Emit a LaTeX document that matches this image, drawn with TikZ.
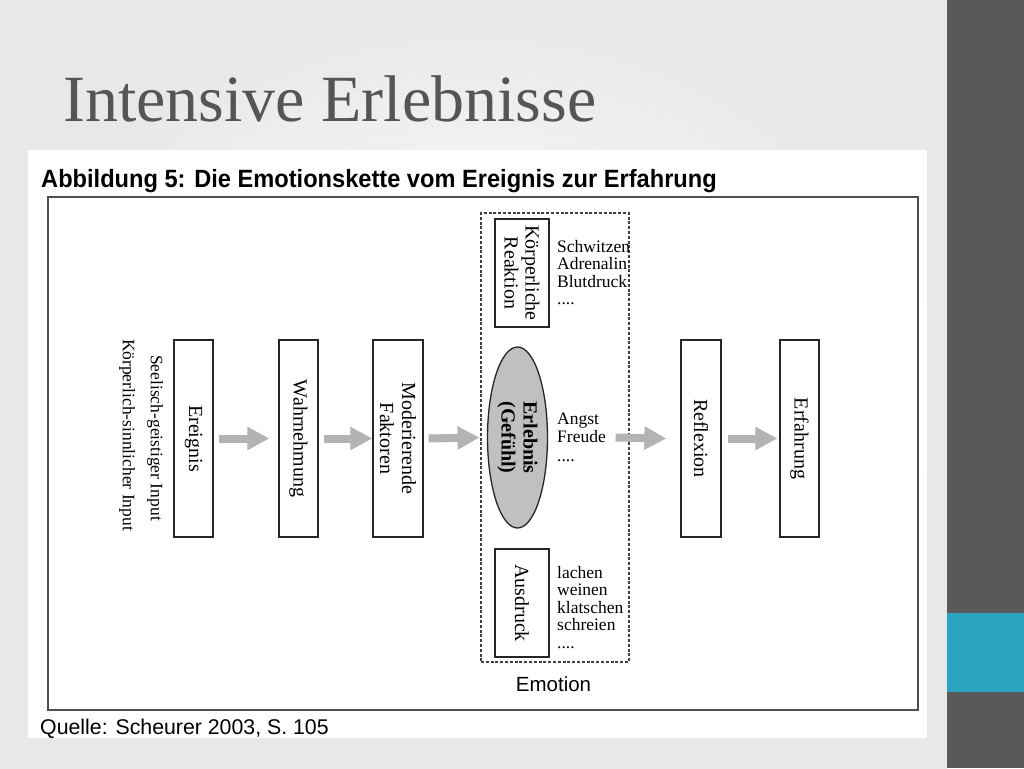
\documentclass[tikz,border=0pt]{standalone}
\usepackage{fontspec}
\setmainfont{Liberation Serif}
\setsansfont{Liberation Sans}
\usetikzlibrary{shapes.geometric,arrows.meta}
\definecolor{titlegray}{HTML}{555555}
\definecolor{barcol}{HTML}{595959}
\definecolor{accentteal}{HTML}{2CA3C1}
\definecolor{arrowgray}{HTML}{B3B3B3}
\definecolor{framegray}{HTML}{505050}
\definecolor{ellgray}{HTML}{C0C0C0}
\definecolor{boxline}{HTML}{262626}
\begin{document}
\begin{tikzpicture}[x=1pt,y=-1pt,
  chainbox/.style={draw=boxline, line width=1.3pt, rectangle, rotate=-90,
    minimum width=197pt, inner sep=0pt, align=center,
    font=\fontsize{20}{22}\selectfont},
  sidebox/.style={draw=boxline, line width=1.3pt, rectangle, rotate=-90,
    minimum width=108pt, minimum height=54pt, inner sep=0pt, align=center,
    font=\fontsize{20}{21}\selectfont},
  listtext/.style={anchor=north west, inner sep=0pt, align=left,
    font=\fontsize{17.5}{17.5}\selectfont},
  sidetext/.style={rotate=-90, inner sep=0pt, font=\fontsize{17.5}{20}\selectfont},
  bigarrow/.style={draw=arrowgray, line width=8pt, -{Triangle[length=22pt,width=22pt]}},
]
\useasboundingbox (0,0) rectangle (1024,768);
% background
\shade[inner color=white, outer color=black!9] (0,0) rectangle (947,768);
\fill[white] (28,150) rectangle (927,738);
\fill[barcol] (947,0) rectangle (1024,768);
\fill[accentteal] (947,613) rectangle (1024,692);

% title
\node[anchor=base west, inner sep=0pt, text=titlegray, font=\fontsize{66}{70}\selectfont]
  (title) at (63,121) {Intensive Erlebnisse};
\node[anchor=base west, inner sep=0pt, font=\sffamily\bfseries\fontsize{25}{28}\selectfont]
  (subtitle) at (41,187) {\scalebox{0.945}[1]{Abbildung 5: Die Emotionskette vom Ereignis zur Erfahrung}};
\node[anchor=base west, inner sep=0pt, font=\sffamily\fontsize{21.3}{24}\selectfont]
  (quelle) at (40,734) {Quelle: Scheurer 2003, S. 105};

% frame
\draw[framegray, line width=2pt] (48,197) rectangle (918,710);

% side texts
\node[sidetext] (seel) at (155,438) {Seelisch-geistiger Input};
\node[sidetext] (koerpin) at (127,435) {Körperlich-sinnlicher Input};

% chain boxes
\node[chainbox, minimum height=39pt] (ereignis) at (193.5,438.5) {Ereignis};
\node[chainbox, minimum height=39pt] (wahr) at (298.5,438.5) {Wahrnehmung};
\node[chainbox, minimum height=50pt] (moder) at (398,438.5) {Moderierende\\Faktoren};
\node[chainbox, minimum height=40pt] (refl) at (701,438.5) {Reflexion};
\node[chainbox, minimum height=39pt] (erf) at (799.5,438.5) {Erfahrung};

% emotion group
\node[draw=black!75, line width=1.1pt, dash pattern=on 3pt off 1.8pt, rectangle,
  minimum width=148pt, minimum height=449pt, inner sep=0pt] (emo) at (555,437.5) {};
\node[sidebox] (koerp) at (522,273) {Körperliche\\Reaktion};
\node[sidebox] (ausdruck) at (522,603) {Ausdruck};
\node[draw=boxline, line width=1.3pt, fill=ellgray, ellipse, inner sep=0pt,
  minimum width=60pt, minimum height=181pt] (erl) at (517.5,437.5) {};
\node[rotate=-90, inner sep=0pt, align=center, font=\bfseries\fontsize{20}{22}\selectfont]
  (erltext) at (erl.center) {Erlebnis\\(Gefühl)};
\node[anchor=base, inner sep=0pt, font=\sffamily\fontsize{20.5}{24}\selectfont]
  (emolabel) at (553.5,691) {Emotion};

% lists
\node[listtext] (list1) at (557,240) {Schwitzen\\Adrenalin\\Blutdruck\\....};
\node[listtext] (list2) at (557,412.5) {Angst\\[1pt]Freude\\[1pt]....};
\node[listtext] (list3) at (557,566) {lachen\\weinen\\klatschen\\schreien\\....};

% arrows
\draw[bigarrow] ([xshift=5pt]ereignis.north) -- ([xshift=-9pt]wahr.south);
\draw[bigarrow] ([xshift=5pt]wahr.north) -- (moder.south);
\draw[bigarrow] ([xshift=5pt]moder.north) -- ([xshift=-1pt]emo.west);
\draw[bigarrow] ([xshift=-14pt]emo.east) -- ([xshift=-14pt]refl.south);
\draw[bigarrow] ([xshift=6pt]refl.north) -- ([xshift=-2pt]erf.south);
\end{tikzpicture}
\end{document}
